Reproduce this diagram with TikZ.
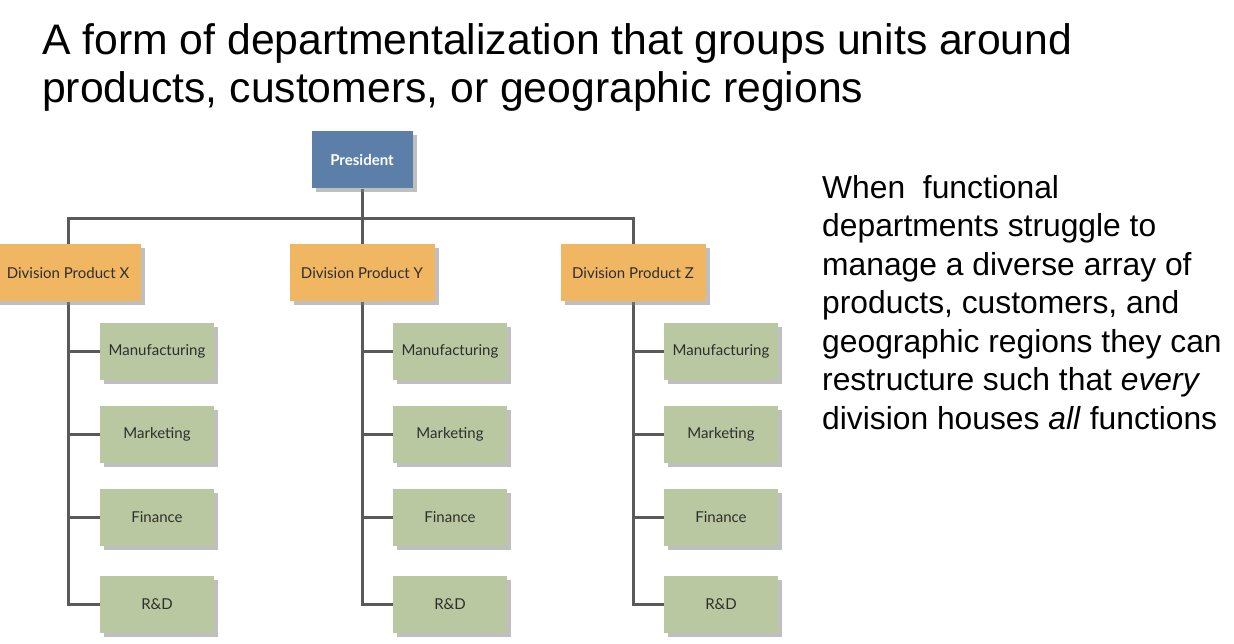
\documentclass[tikz,border=0pt]{standalone}
\usepackage{fontspec}
\setmainfont{Liberation Sans}
\newfontfamily\boxfont{Lato}
\usetikzlibrary{shadows,backgrounds}
\definecolor{presblue}{HTML}{5B7FA8}
\definecolor{divorange}{HTML}{F0B661}
\definecolor{funcgreen}{HTML}{B9C8A0}
\definecolor{linegray}{HTML}{5A5A5A}
\definecolor{boxtext}{HTML}{2E2E2E}
\begin{document}
\begin{tikzpicture}[x=1pt, y=-1pt,
        every node/.style={font=\boxfont\fontsize{15}{17}\selectfont, text=boxtext},
        presbox/.style={rectangle, minimum width=101pt, minimum height=57pt,
            fill=presblue, text=white,
            font=\boxfont\bfseries\fontsize{15}{17}\selectfont,
            drop shadow={shadow xshift=4pt, shadow yshift=-4pt, fill=black!50, opacity=0.5}},
        divbox/.style={rectangle, minimum width=145pt, minimum height=57pt,
            fill=divorange,
            drop shadow={shadow xshift=4pt, shadow yshift=-4pt, fill=black!50, opacity=0.5}},
        funcbox/.style={rectangle, minimum width=114pt, minimum height=57pt,
            fill=funcgreen,
            drop shadow={shadow xshift=4pt, shadow yshift=-4pt, fill=black!50, opacity=0.5}},
        conn/.style={line width=3pt, draw=linegray},
        bigtext/.style={anchor=base west, align=left, inner sep=0pt, text=black}
      ]
      \useasboundingbox (0,0) rectangle (1234,644);
      \node[bigtext, font=\fontsize{42.7}{48}\selectfont] (title) at (42,103)
      {A form of departmentalization that groups units around\\
       products, customers, or geographic regions};
      \node[bigtext, font=\fontsize{31.8}{38.5}\selectfont] (note) at (822,429)
      {When\ \ functional\\
       departments struggle to\\
       manage a diverse array of\\
       products, customers, and\\
       geographic regions they can\\
       restructure such that \textit{every}\\
       division houses \textit{all} functions};
      % boxes
      \node[presbox] (pres) at (362,160) {President};
      \node[divbox] (divx) at (68,273) {Division Product X};
      \node[divbox] (divy) at (362,273) {Division Product Y};
      \node[divbox] (divz) at (633,273) {Division Product Z};
      \node[funcbox] (manx) at (157,351) {Manufacturing};
      \node[funcbox] (mktx) at (157,434) {Marketing};
      \node[funcbox] (finx) at (157,517) {Finance};
      \node[funcbox] (rdx)  at (157,604) {R\&D};
      \node[funcbox] (many) at (450,351) {Manufacturing};
      \node[funcbox] (mkty) at (450,434) {Marketing};
      \node[funcbox] (finy) at (450,517) {Finance};
      \node[funcbox] (rdy)  at (450,604) {R\&D};
      \node[funcbox] (manz) at (721,351) {Manufacturing};
      \node[funcbox] (mktz) at (721,434) {Marketing};
      \node[funcbox] (finz) at (721,517) {Finance};
      \node[funcbox] (rdz)  at (721,604) {R\&D};
      % connectors
      \begin{scope}[on background layer]
        \coordinate (bar) at (362,219);
        \draw[conn] (pres.south) -- (divy.north);
        \draw[conn] (divx.north) |- (bar) -| (divz.north);
        \draw[conn] (divx.south) |- (rdx.west);
        \draw[conn] (divy.south) |- (rdy.west);
        \draw[conn] (divz.south) |- (rdz.west);
        \draw[conn] (divx.south |- manx.west) -- (manx.west);
        \draw[conn] (divx.south |- mktx.west) -- (mktx.west);
        \draw[conn] (divx.south |- finx.west) -- (finx.west);
        \draw[conn] (divy.south |- many.west) -- (many.west);
        \draw[conn] (divy.south |- mkty.west) -- (mkty.west);
        \draw[conn] (divy.south |- finy.west) -- (finy.west);
        \draw[conn] (divz.south |- manz.west) -- (manz.west);
        \draw[conn] (divz.south |- mktz.west) -- (mktz.west);
        \draw[conn] (divz.south |- finz.west) -- (finz.west);
      \end{scope}
    \end{tikzpicture}
\end{document}
